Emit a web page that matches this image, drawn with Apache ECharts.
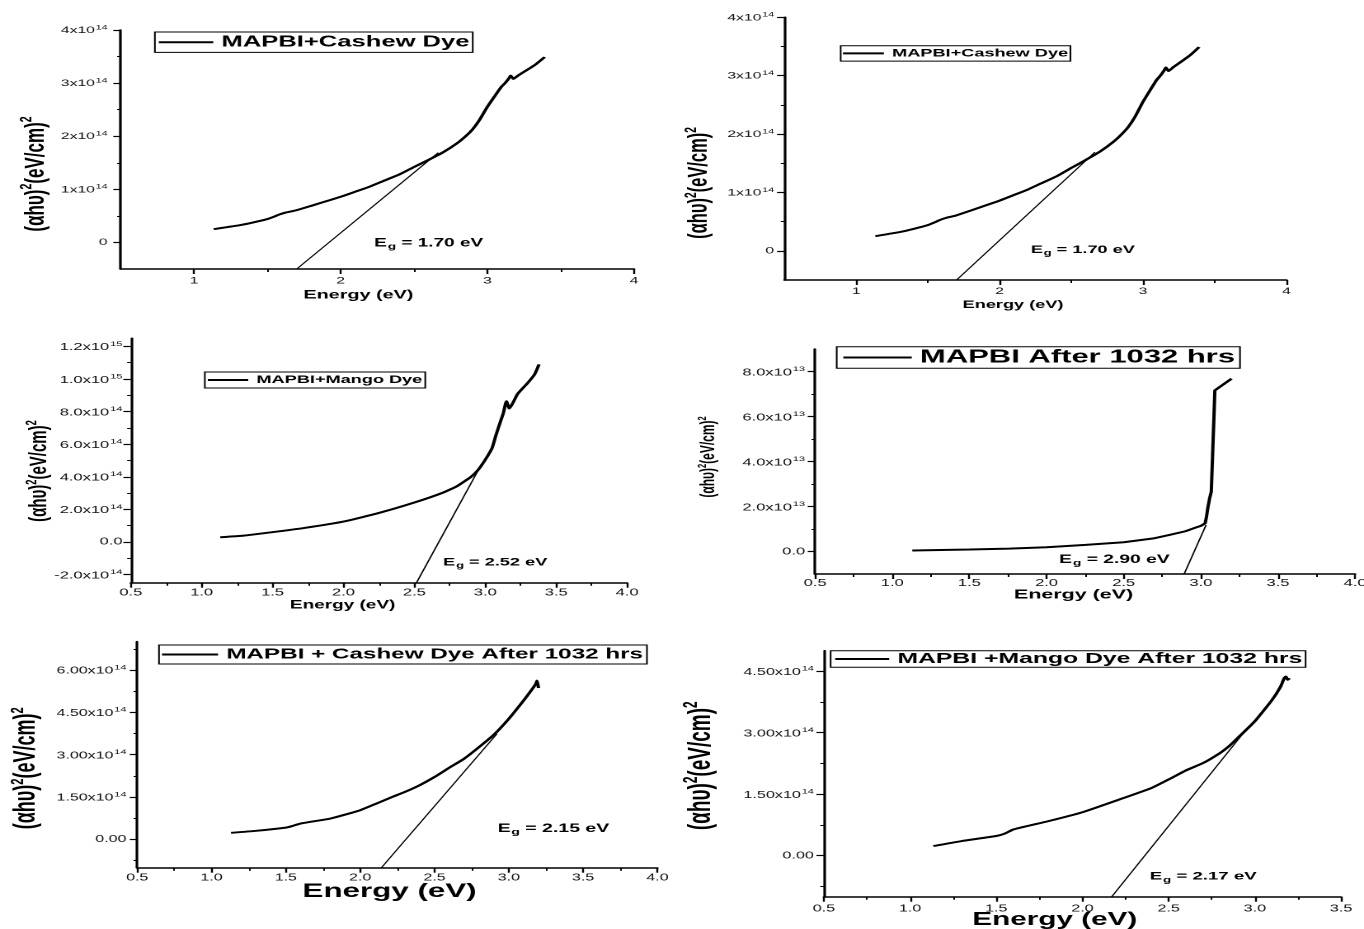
<!DOCTYPE html>
<html>
<head>
<meta charset="utf-8">
<script src="https://cdn.jsdelivr.net/npm/echarts@6/dist/echarts.min.js"></script>
<style>
html,body{margin:0;padding:0;overflow:hidden;background:#fff;width:1364px;height:929px;}
#chart{position:absolute;left:0;top:0;width:827px;height:929px;transform-origin:0 0;transform:scaleX(1.649335);}
</style>
</head>
<body>
<div id="chart"></div>
<script>
// ---------------- data ----------------
const seriesNames = ['MAPBI+Cashew Dye', 'MAPBI+Cashew Dye', 'MAPBI+Mango Dye',
  'MAPBI After 1032 hrs', 'MAPBI + Cashew Dye After 1032 hrs', 'MAPBI +Mango Dye After 1032 hrs'];
const bandGaps = ['1.70', '1.70', '2.52', '2.90', '2.15', '2.17'];

// MAPBI + Cashew Dye (fresh)
const cashewX = [1.134,1.223,1.312,1.40,1.496,1.55,1.58,1.624,1.698,1.80,1.906,2.0,2.10,2.197,2.29,2.40,2.50,2.60,2.70,2.797,2.856,2.898,2.945,2.999,3.049,3.094,3.124,3.147,3.159,3.177,3.213,3.272,3.331,3.391];
const cashewY = [0.25e14,0.2875e14,0.325e14,0.375e14,0.4375e14,0.49e14,0.525e14,0.5625e14,0.606e14,0.69e14,0.78e14,0.86e14,0.956e14,1.05e14,1.156e14,1.28e14,1.42e14,1.556e14,1.70e14,1.875e14,2.01e14,2.125e14,2.30e14,2.55e14,2.75e14,2.925e14,3.01e14,3.09e14,3.14e14,3.08e14,3.15e14,3.25e14,3.356e14,3.49e14];
const cashewTanX = [1.70, 2.665];
const cashewTanY = [-0.5e14, 1.69e14];

// MAPBI + Mango Dye (fresh)
const mangoX = [1.131,1.296,1.498,1.725,2.0,2.25,2.50,2.70,2.80,2.90,2.95,3.0,3.048,3.073,3.10,3.128,3.149,3.17,3.195,3.226,3.256,3.30,3.348,3.379];
const mangoY = [0.29e14,0.39e14,0.60e14,0.86e14,1.25e14,1.78e14,2.42e14,3.02e14,3.42e14,4.0e14,4.43e14,5.05e14,5.77e14,6.49e14,7.21e14,7.93e14,8.64e14,8.19e14,8.54e14,9.06e14,9.36e14,9.77e14,10.29e14,10.9e14];
const mangoTanX = [2.515, 2.975];
const mangoTanY = [-2.5e14, 4.8e14];

// MAPBI after 1032 hrs
const agedX = [1.13,1.50,1.756,2.0,2.253,2.50,2.70,2.80,2.90,2.949,3.0,3.028,3.037,3.045,3.057,3.068,3.077,3.085,3.091,3.199];
const agedY = [0.044e13,0.089e13,0.13e13,0.19e13,0.295e13,0.41e13,0.59e13,0.74e13,0.90e13,1.02e13,1.14e13,1.25e13,1.55e13,1.92e13,2.36e13,2.66e13,2.58e13,2.58e13,7.16e13,7.68e13];
const agedTanX = [2.892, 3.034];
const agedTanY = [-1e13, 1.18e13];

// MAPBI + Cashew Dye after 1032 hrs
const cashewAgedX = [1.131,1.30,1.50,1.54,1.60,1.80,1.90,2.0,2.10,2.20,2.30,2.40,2.50,2.60,2.70,2.80,2.90,3.0,3.10,3.15,3.182,3.19,3.20];
const cashewAgedY = [0.235e14,0.306e14,0.42e14,0.47e14,0.565e14,0.74e14,0.88e14,1.035e14,1.25e14,1.47e14,1.68e14,1.92e14,2.21e14,2.54e14,2.86e14,3.27e14,3.71e14,4.27e14,4.92e14,5.27e14,5.51e14,5.62e14,5.36e14];
const cashewAgedTanX = [2.143, 2.92];
const cashewAgedTanY = [-1e14, 3.74e14];

// MAPBI + Mango Dye after 1032 hrs
const mangoAgedX = [1.135,1.30,1.50,1.55,1.60,1.80,2.0,2.2,2.4,2.5,2.6,2.7,2.8,2.85,2.9,3.0,3.1,3.15,3.17,3.18,3.19,3.20];
const mangoAgedY = [0.235e14,0.357e14,0.48e14,0.54e14,0.64e14,0.84e14,1.06e14,1.35e14,1.65e14,1.86e14,2.08e14,2.26e14,2.51e14,2.67e14,2.87e14,3.28e14,3.80e14,4.13e14,4.33e14,4.37e14,4.29e14,4.33e14];
const mangoAgedTanX = [2.17, 2.933];
const mangoAgedTanY = [-1e14, 2.99e14];

// tick values
const eTicksInt = [1, 2, 3, 4];
const eMinorInt = [1.5, 2.5, 3.5];
const eTicksHalf = [0.5, 1.0, 1.5, 2.0, 2.5, 3.0, 3.5, 4.0];
const eMinorHalf = [0.75, 1.25, 1.75, 2.25, 2.75, 3.25, 3.75];
const eTicksHalf35 = [0.5, 1.0, 1.5, 2.0, 2.5, 3.0, 3.5];
const eMinorHalf35 = [0.75, 1.25, 1.75, 2.25, 2.75, 3.25];
const cashewYTicks = [0, 1e14, 2e14, 3e14, 4e14];
const cashewYMinor = [0.5e14, 1.5e14, 2.5e14, 3.5e14];
const mangoYTicks = [-2e14, 0, 2e14, 4e14, 6e14, 8e14, 1e15, 1.2e15];
const mangoYMinor = [-1e14, 1e14, 3e14, 5e14, 7e14, 9e14, 1.1e15];
const agedYTicks = [0, 2e13, 4e13, 6e13, 8e13];
const agedYMinor = [1e13, 3e13, 5e13, 7e13];
const cashewAgedYTicks = [0, 1.5e14, 3e14, 4.5e14, 6e14];
const cashewAgedYMinor = [-0.75e14, 0.75e14, 2.25e14, 3.75e14, 5.25e14, 6.75e14];
const mangoAgedYTicks = [0, 1.5e14, 3e14, 4.5e14];
const mangoAgedYMinor = [-0.75e14, 0.75e14, 2.25e14, 3.75e14];

// ---------------- helpers ----------------
const FONT = "'Liberation Sans', Arial, Helvetica, sans-serif";
function pairs(xs, ys) { return xs.map((x, i) => [x, ys[i]]); }
function sciFormatter(dec) {
  return function (v) {
    if (Math.abs(v) < 1) return '{m|' + (dec > 0 ? (0).toFixed(dec) : '0') + '}';
    const e = Math.floor(Math.log10(Math.abs(v)) + 1e-9);
    const m = v / Math.pow(10, e);
    return '{m|' + m.toFixed(dec) + 'x10}{s|' + e + '}';
  };
}

const panels = [
  { grid: {left: 73.2, top: 30, width: 311.2, height: 239},
    x: [0.5, 4], xT: eTicksInt, xM: eMinorInt, xDec: 0,
    y: [-0.5e14, 4e14], yT: cashewYTicks, yM: cashewYMinor, yDec: 0,
    tickFs: 9.5, xLM: 7, yLM: 8,
    xName: {fs: 12, gap: 20, shift: 11.5}, yName: {fs: 17, gap: 43, shift: 24.5},
    legend: {left: 93.9, top: 32, len: 33, fs: 15.5, pad: [2.2, 2, 2.2, 2.4]},
    eg: {at: [2.60, -0.03e14], fs: 11.5},
    curve: [cashewX, cashewY], tan: [cashewTanX, cashewTanY], smooth: 0.15 },
  { grid: {left: 475.6, top: 17.3, width: 304.4, height: 262.7},
    x: [0.5, 4], xT: eTicksInt, xM: eMinorInt, xDec: 0,
    y: [-0.5e14, 4e14], yT: cashewYTicks, yM: cashewYMinor, yDec: 0,
    tickFs: 9.5, xLM: 6.5, yLM: 6.3,
    xName: {fs: 11, gap: 19.5, shift: 13.6}, yName: {fs: 16.5, gap: 43.3, shift: 34.3},
    legend: {left: 509.7, top: 45.7, len: 24.8, fs: 11, pad: [2.2, 1.4, 2.2, 1.4]},
    eg: {at: [2.58, 0], fs: 11},
    curve: [cashewX, cashewY], tan: [cashewTanX, cashewTanY], smooth: 0.15 },
  { grid: {left: 79.3, top: 338.3, width: 300.9, height: 244.4},
    x: [0.5, 4], xT: eTicksHalf, xM: eMinorHalf, xDec: 1,
    y: [-2.5e14, 1.25e15], yT: mangoYTicks, yM: mangoYMinor, yDec: 1,
    tickFs: 10, xLM: 5, yLM: 5,
    xName: {fs: 11.5, gap: 16.5, shift: 22}, yName: {fs: 15, gap: 48, shift: 10.5},
    legend: {left: 124.2, top: 372, len: 24.5, fs: 11, pad: [2.5, 1.8, 2.5, 1.8]},
    eg: {at: [3.07, -1.31e14], fs: 11},
    curve: [mangoX, mangoY], tan: [mangoTanX, mangoTanY], smooth: 0.15 },
  { grid: {left: 494.2, top: 349, width: 327.4, height: 225},
    x: [0.5, 4], xT: eTicksHalf, xM: eMinorHalf, xDec: 1,
    y: [-1e13, 9e13], yT: agedYTicks, yM: agedYMinor, yDec: 1,
    tickFs: 10, xLM: 4, yLM: 6,
    xName: {fs: 13, gap: 14.5, shift: 7}, yName: {fs: 12, gap: 58.5, shift: -4.5},
    legend: {left: 507.3, top: 346.7, len: 41.5, fs: 18.8, pad: [1.3, 3, 1.3, 4]},
    eg: {at: [2.44, -0.4e13], fs: 11.7},
    curve: [agedX, agedY], tan: [agedTanX, agedTanY], smooth: false },
  { grid: {left: 83.2, top: 641.7, width: 315.4, height: 226},
    x: [0.5, 4], xT: eTicksHalf, xM: eMinorHalf, xDec: 1,
    y: [-1e14, 7e14], yT: cashewAgedYTicks, yM: cashewAgedYMinor, yDec: 2,
    tickFs: 9.7, xLM: 5, yLM: 6.6,
    xName: {fs: 19, gap: 14.5, shift: 4.7}, yName: {fs: 18, gap: 58, shift: 13.6},
    legend: {left: 96.4, top: 645, len: 34, fs: 14.7, pad: [2, 2.4, 2, 1.8]},
    eg: {at: [3.30, 0.36e14], fs: 11.8},
    curve: [cashewAgedX, cashewAgedY], tan: [cashewAgedTanX, cashewAgedTanY], smooth: 0.15 },
  { grid: {left: 499.5, top: 650.7, width: 313.6, height: 246},
    x: [0.5, 3.5], xT: eTicksHalf35, xM: eMinorHalf35, xDec: 1,
    y: [-1e14, 5e14], yT: mangoAgedYTicks, yM: mangoAgedYMinor, yDec: 2,
    tickFs: 9.8, xLM: 7, yLM: 6,
    xName: {fs: 18, gap: 14.3, shift: 16.8}, yName: {fs: 19, gap: 64.8, shift: -7.9},
    legend: {left: 503.6, top: 650.7, len: 32.7, fs: 15, pad: [0.8, 2, 0.8, 2.8]},
    eg: {at: [2.70, -0.535e14], fs: 11.3},
    curve: [mangoAgedX, mangoAgedY], tan: [mangoAgedTanX, mangoAgedTanY], smooth: 0.15 }
];

const grids = [], xAxes = [], yAxes = [], series = [], legends = [];

panels.forEach((p, i) => {
  grids.push(Object.assign({outerBoundsMode: 'none', containLabel: false}, p.grid));
  const xs = p.xName.shift;
  xAxes.push({
    type: 'value', gridIndex: i, min: p.x[0], max: p.x[1], position: 'bottom',
    axisLine: {show: true, onZero: false, lineStyle: {color: '#000', width: 1.6}},
    axisTick: {show: true, customValues: p.xT, length: 5, lineStyle: {color: '#000', width: 1.2}},
    axisLabel: {show: true, customValues: p.xT, margin: p.xLM, fontSize: p.tickFs, color: '#111',
      fontFamily: FONT, formatter: v => v.toFixed(p.xDec)},
    splitLine: {show: false}, minorTick: {show: false},
    name: 'Energy (eV)', nameLocation: 'middle', nameGap: p.xName.gap, nameMoveOverlap: false,
    nameTextStyle: {fontSize: p.xName.fs, fontWeight: 'bold', color: '#000', fontFamily: FONT,
      padding: xs >= 0 ? [0, 2 * xs, 0, 0] : [0, 0, 0, -2 * xs]}
  });
  xAxes.push({
    type: 'value', gridIndex: i, min: p.x[0], max: p.x[1], position: 'bottom',
    axisLine: {show: false, onZero: false},
    axisTick: {show: true, customValues: p.xM, length: 3, lineStyle: {color: '#000', width: 1}},
    axisLabel: {show: false}, splitLine: {show: false}
  });
  const ys = p.yName.shift;
  const nfs = p.yName.fs;
  yAxes.push({
    type: 'value', gridIndex: i, min: p.y[0], max: p.y[1], position: 'left',
    axisLine: {show: true, onZero: false, lineStyle: {color: '#000', width: 1.6}},
    axisTick: {show: true, customValues: p.yT, length: 4.5, lineStyle: {color: '#000', width: 1.2}},
    axisLabel: {show: true, customValues: p.yT, margin: p.yLM, formatter: sciFormatter(p.yDec),
      rich: {
        m: {fontSize: p.tickFs, color: '#111', fontFamily: FONT, verticalAlign: 'bottom'},
        s: {fontSize: p.tickFs * 0.68, color: '#111', fontFamily: FONT, verticalAlign: 'bottom',
            padding: [0, 0, p.tickFs * 0.5, 0.5]}
      }},
    splitLine: {show: false}, minorTick: {show: false},
    name: '{b|(αhυ)}{s|2}{b|(eV/cm)}{s|2}', nameLocation: 'middle', nameRotate: 90,
    nameGap: p.yName.gap, nameMoveOverlap: false,
    nameTextStyle: {fontSize: nfs, fontWeight: 'bold', color: '#000', fontFamily: FONT,
      padding: ys >= 0 ? [0, 2 * ys, 0, 0] : [0, 0, 0, -2 * ys],
      rich: {
        b: {fontSize: nfs, fontWeight: 'bold', color: '#000', fontFamily: FONT, verticalAlign: 'bottom'},
        s: {fontSize: nfs * 0.62, fontWeight: 'bold', color: '#000', fontFamily: FONT, verticalAlign: 'bottom',
            padding: [0, 0, nfs * 0.5, 0]}
      }}
  });
  yAxes.push({
    type: 'value', gridIndex: i, min: p.y[0], max: p.y[1], position: 'left',
    axisLine: {show: false, onZero: false},
    axisTick: {show: true, customValues: p.yM, length: 2.2, lineStyle: {color: '#000', width: 1}},
    axisLabel: {show: false}, splitLine: {show: false}
  });

  series.push({
    type: 'line', name: seriesNames[i], xAxisIndex: 2 * i, yAxisIndex: 2 * i,
    data: pairs(p.curve[0], p.curve[1]), symbol: 'none', smooth: p.smooth,
    lineStyle: {color: '#000', width: 2}, itemStyle: {color: '#000'}, z: 3, silent: true
  });
  const efs = p.eg.fs;
  series.push({
    type: 'line', xAxisIndex: 2 * i, yAxisIndex: 2 * i,
    data: pairs(p.tan[0], p.tan[1]), symbol: 'none',
    lineStyle: {color: '#000', width: 0.9}, itemStyle: {color: '#000'}, z: 2, silent: true,
    markPoint: {
      silent: true, symbol: 'circle', symbolSize: 0, animation: false,
      data: [{coord: p.eg.at, value: bandGaps[i]}],
      label: {show: true, position: 'inside',
        formatter: '{b|E}{g|g}{b| = ' + bandGaps[i] + ' eV}',
        rich: {
          b: {fontSize: efs, fontWeight: 'bold', color: '#000', fontFamily: FONT, verticalAlign: 'top'},
          g: {fontSize: efs * 0.72, fontWeight: 'bold', color: '#000', fontFamily: FONT, verticalAlign: 'top',
              padding: [efs * 0.45, 0, 0, 0.5]}
        }}
    }
  });

  const L = p.legend;
  legends.push({
    show: true, data: [seriesNames[i]], left: L.left, top: L.top, orient: 'horizontal',
    icon: 'rect', itemWidth: L.len, itemHeight: 2, padding: L.pad,
    borderColor: '#000', borderWidth: 1, backgroundColor: '#fff', selectedMode: false,
    itemStyle: {color: '#000'},
    textStyle: {fontSize: L.fs, fontWeight: 'bold', color: '#000', fontFamily: FONT}
  });
});

const chart = echarts.init(document.getElementById('chart'), null, {renderer: 'canvas', devicePixelRatio: 2});
chart.setOption({
  animation: false,
  backgroundColor: '#fff',
  textStyle: {fontFamily: FONT},
  grid: grids,
  xAxis: xAxes,
  yAxis: yAxes,
  legend: legends,
  series: series
});
</script>
</body>
</html>
